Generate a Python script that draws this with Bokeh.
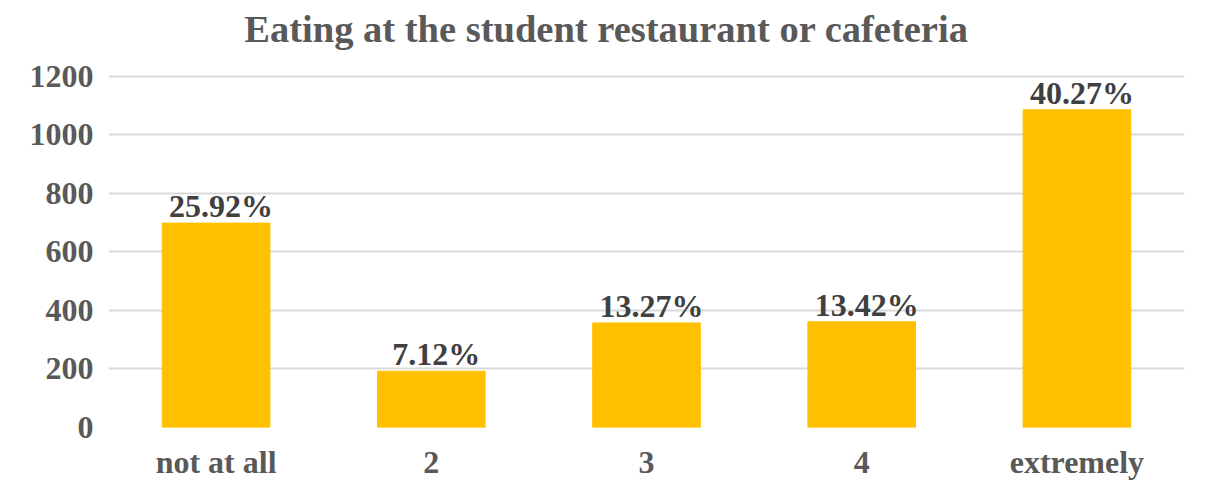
from bokeh.plotting import figure
from bokeh.models import ColumnDataSource, LabelSet, Label, FixedTicker, Range1d
from bokeh.embed import file_html
from bokeh.resources import INLINE

categories = ["not at all", "2", "3", "4", "extremely"]
counts = [698, 192, 357, 361, 1085]
percent_labels = ["25.92%", "7.12%", "13.27%", "13.42%", "40.27%"]
y_ticks = [0, 200, 400, 600, 800, 1000, 1200]
title_text = "Eating at the student restaurant or cafeteria"

FONT = "Liberation Serif"
GRAY = "#595959"

src = ColumnDataSource(dict(cat=categories, val=counts, lab=percent_labels))

# frame spans the full height above the axis; gridlines/ticks stop at 1200
p = figure(x_range=categories, y_range=Range1d(0, 1458), width=1189, height=483,
           output_backend="svg", toolbar_location=None,
           min_border_left=108, min_border_right=5, min_border_top=0, min_border_bottom=56)
p.outline_line_color = None
p.background_fill_color = "white"
p.border_fill_color = "white"

p.vbar(x="cat", top="val", width=0.5, source=src, color="#FFC000")

labels = LabelSet(x="cat", y="val", text="lab", source=src, text_align="center",
                  text_baseline="bottom", y_offset=-1, x_offset=5, text_font=FONT,
                  text_font_style="bold", text_font_size="32px", text_color="#404040")
p.add_layout(labels)

title = Label(x=2.314, y=1362, text=title_text, text_align="center",
              text_baseline="middle", text_font=FONT, text_font_style="bold",
              text_font_size="38.5px", text_color=GRAY)
p.add_layout(title)

p.yaxis.ticker = FixedTicker(ticks=y_ticks)
for ax in (p.xaxis[0], p.yaxis[0]):
    ax.axis_line_color = None
    ax.major_tick_line_color = None
    ax.minor_tick_line_color = None
    ax.major_label_text_font = FONT
    ax.major_label_text_font_style = "bold"
    ax.major_label_text_font_size = "32px"
    ax.major_label_text_color = GRAY
p.yaxis.major_label_standoff = 9
p.xaxis.major_label_standoff = 10

p.xgrid.grid_line_color = None
p.ygrid.grid_line_color = "#d9d9d9"
p.ygrid.grid_line_width = 2
p.x_range.range_padding = 0

open("out.html", "w").write(file_html(p, INLINE))
